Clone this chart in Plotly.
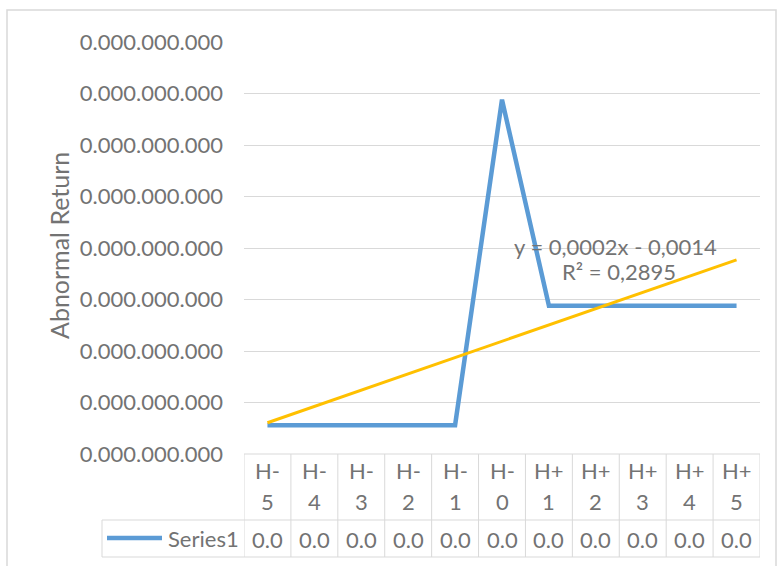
import numpy as np
import plotly.graph_objects as go

# ---------------- data ----------------
categories = ["H-5", "H-4", "H-3", "H-2", "H-1", "H-0", "H+1", "H+2", "H+3", "H+4", "H+5"]
cat_line1 = ["H-", "H-", "H-", "H-", "H-", "H-", "H+", "H+", "H+", "H+", "H+"]
cat_line2 = ["5", "4", "3", "2", "1", "0", "1", "2", "3", "4", "5"]
series_name = "Series1"
series1 = [-0.00122, -0.00122, -0.00122, -0.00122, -0.00122, 0.00194,
           -0.00006, -0.00006, -0.00006, -0.00006, -0.00006]
y_tickvals = [-0.0015, -0.0010, -0.0005, 0.0, 0.0005, 0.0010, 0.0015, 0.0020, 0.0025]
y_ticktext = ["0.000.000.000"] * len(y_tickvals)
y_title = "Abnormal Return"
trend_label = ["y = 0,0002x - 0,0014", "R² = 0,2895"]

# ---------------- layout geometry (pixels) ----------------
W, H = 779, 566
PL, PR, PT, PB = 244, 760, 42, 454
FONT = "Lato"
GREY = "#737373"
LINEC = "#D9D9D9"
BLUE = "#5B9BD5"
GOLD = "#FFC000"
FS_TICK = 22
FS_TABLE = 22
FS_TITLE = 25
FS_TREND = 22

def px(xp):
    return (xp - PL) / (PR - PL)

def py(yp):
    return (PB - yp) / (PB - PT)

xs = np.arange(1, len(categories) + 1)
ys = np.array(series1)
slope, intercept = np.polyfit(xs, ys, 1)
trend = slope * xs + intercept

fig = go.Figure()
fig.add_trace(go.Scatter(x=xs, y=ys, mode="lines", name=series_name,
                         line=dict(color=BLUE, width=4.5), showlegend=False))
fig.add_trace(go.Scatter(x=[xs[0], xs[-1]], y=[trend[0], trend[-1]], mode="lines",
                         line=dict(color=GOLD, width=3), showlegend=False))

shapes = []
annotations = []
# outer chart border
shapes.append(dict(type="rect", xref="paper", yref="paper", x0=px(7), x1=px(776),
                   y0=py(570), y1=py(10), line=dict(color=LINEC, width=1.5), layer="below"))
# data table
row_top, row_mid, row_bot = 454, 520, 557
for k in range(len(categories) + 1):
    shapes.append(dict(type="line", xref="x", yref="paper", x0=k + 0.5, x1=k + 0.5,
                       y0=py(row_bot), y1=py(row_top), line=dict(color=LINEC, width=1)))
shapes.append(dict(type="line", xref="paper", yref="paper", x0=px(102), x1=px(102),
                   y0=py(row_bot), y1=py(row_mid), line=dict(color=LINEC, width=1)))
for yy, x0 in [(row_top, PL), (row_mid, 102), (row_bot, 102)]:
    shapes.append(dict(type="line", xref="paper", yref="paper", x0=px(x0), x1=1,
                       y0=py(yy), y1=py(yy), line=dict(color=LINEC, width=1)))
# legend key
shapes.append(dict(type="line", xref="paper", yref="paper", x0=px(107), x1=px(162),
                   y0=py(538), y1=py(538), line=dict(color=BLUE, width=4.5)))
annotations.append(dict(xref="paper", yref="paper", x=px(241), y=py(538), text=series_name,
                        showarrow=False, xanchor="right", yanchor="middle",
                        font=dict(family=FONT, size=FS_TABLE, color=GREY)))
for i, c in enumerate(categories):
    annotations.append(dict(xref="x", yref="paper", x=xs[i], y=py(470), text=cat_line1[i],
                            showarrow=False, xanchor="center", yanchor="middle",
                            font=dict(family=FONT, size=FS_TABLE, color=GREY)))
    annotations.append(dict(xref="x", yref="paper", x=xs[i], y=py(501), text=cat_line2[i],
                            showarrow=False, xanchor="center", yanchor="middle",
                            font=dict(family=FONT, size=FS_TABLE, color=GREY)))
    annotations.append(dict(xref="x", yref="paper", x=xs[i], y=py(539),
                            text=f"{round(series1[i], 1) + 0.0:.1f}",
                            showarrow=False, xanchor="center", yanchor="middle",
                            font=dict(family=FONT, size=FS_TABLE, color=GREY)))
# y title
annotations.append(dict(xref="paper", yref="paper", x=px(59), y=py(246), text=y_title,
                        textangle=-90, showarrow=False, xanchor="center", yanchor="middle",
                        font=dict(family=FONT, size=FS_TITLE, color=GREY)))
# trendline label
annotations.append(dict(xref="x", yref="y", x=8.42, y=0.00051, text=trend_label[0],
                        showarrow=False, xanchor="center", yanchor="middle",
                        font=dict(family=FONT, size=FS_TREND, color=GREY)))
annotations.append(dict(xref="x", yref="y", x=8.5, y=0.00027, text=trend_label[1],
                        showarrow=False, xanchor="center", yanchor="middle",
                        font=dict(family=FONT, size=FS_TREND, color=GREY)))

fig.update_layout(
    width=W, height=H,
    margin=dict(l=PL, r=W - PR, t=PT, b=H - PB, pad=0),
    paper_bgcolor="white", plot_bgcolor="white",
    shapes=shapes, annotations=annotations,
    font=dict(family=FONT, size=FS_TICK, color=GREY),
    xaxis=dict(range=[0.5, len(categories) + 0.5], showticklabels=False, showgrid=False,
               zeroline=False, showline=False, fixedrange=True),
    yaxis=dict(range=[y_tickvals[0], y_tickvals[-1]], tickvals=y_tickvals, ticktext=y_ticktext,
               showgrid=True, gridcolor=LINEC, gridwidth=1, zeroline=False, showline=False,
               ticks="", ticklabelstandoff=20, tickfont=dict(family=FONT, size=FS_TICK, color=GREY)),
)

fig.write_html("out.html")
